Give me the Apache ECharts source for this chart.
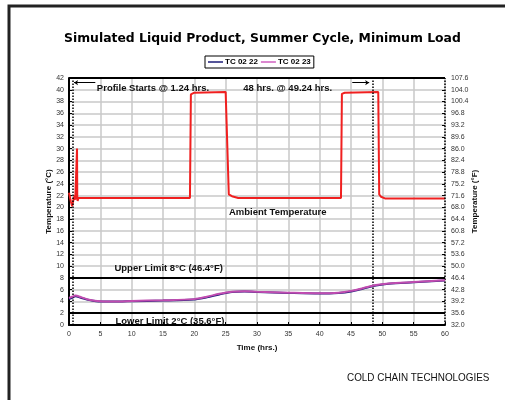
<!DOCTYPE html>
<html>
<head>
<meta charset="utf-8">
<script src="https://cdn.jsdelivr.net/npm/echarts@6/dist/echarts.min.js"></script>
<style>
  html, body { margin: 0; padding: 0; background: #fff; }
  #chart { width: 505px; height: 400px; }
</style>
</head>
<body>
<div id="chart"></div>
<script>
// ambient (chamber) profile
var ambientTime = [0, 0.3, 0.5, 0.75, 0.9, 1.0, 1.1, 1.22, 1.28, 1.32, 1.38, 1.5, 19.3, 19.45, 20, 25, 25.3, 25.5, 26, 27, 43.4, 43.55, 44, 49.35, 49.5, 49.8, 50.5, 60];
var ambientTemp = [22.5, 21, 20.2, 21.5, 22, 21.3, 21, 21.5, 30, 21.5, 21.1, 21.6, 21.6, 39.2, 39.5, 39.6, 39.5, 22.2, 21.9, 21.6, 21.6, 39.3, 39.5, 39.6, 22.2, 21.8, 21.5, 21.5];

// product thermocouples
var productTime = [0, 0.5, 1, 2, 3, 5, 8, 10, 15, 20, 22, 24, 26, 28, 30, 35, 40, 43, 45, 47, 49, 51, 55, 60];
var tc0222 = [4.4, 4.6, 4.9, 4.6, 4.3, 4.0, 4.0, 4.05, 4.15, 4.35, 4.7, 5.2, 5.6, 5.7, 5.6, 5.45, 5.35, 5.45, 5.7, 6.2, 6.7, 7.0, 7.25, 7.55];
var tc0223 = [4.6, 4.8, 5.0, 4.7, 4.35, 4.05, 4.0, 4.1, 4.2, 4.4, 4.8, 5.3, 5.65, 5.75, 5.65, 5.5, 5.4, 5.5, 5.8, 6.3, 6.8, 7.05, 7.3, 7.6];

var upperLimit = 8;
var lowerLimit = 2;
var profileStart = 0.65;
var profileEnd = 48.5;

function zip (xs, ys) {
  return xs.map(function (x, i) { return [x, ys[i]]; });
}

// text placed at a data coordinate
function note (text, x, y) {
  return {
    coord: [x, y],
    symbol: 'rect',
    symbolSize: 1,
    itemStyle: { color: 'rgba(0,0,0,0)' },
    label: {
      show: true,
      position: 'inside',
      formatter: text,
      fontFamily: 'Liberation Sans',
      fontWeight: 'bold',
      fontSize: 9.5,
      color: '#111'
    }
  };
}

var font = 'Liberation Sans';
var chart = echarts.init(document.getElementById('chart'));

chart.setOption({
  animation: false,
  backgroundColor: '#fff',
  graphic: [{
    type: 'polyline',
    shape: { points: [[9, 400], [9, 6], [505, 6]] },
    style: { fill: 'none', stroke: '#222', lineWidth: 3 },
    silent: true
  }, {
    type: 'text',
    x: 347,
    y: 372,
    scaleX: 0.9,
    style: { text: 'COLD CHAIN TECHNOLOGIES', font: '11px "Liberation Sans"', fill: '#111' }
  }],
  title: {
    text: 'Simulated Liquid Product, Summer Cycle, Minimum Load',
    left: 59,
    top: 28,
    textStyle: { fontFamily: 'DejaVu Sans', fontWeight: 'bold', fontSize: 12.4, color: '#000' }
  },
  legend: {
    top: 56,
    left: 205,
    data: ['TC 02 22', 'TC 02 23'],
    icon: 'rect',
    itemWidth: 15,
    itemHeight: 1.5,
    itemGap: 3,
    padding: [2, 3],
    borderColor: '#000',
    borderWidth: 1,
    textStyle: { fontFamily: font, fontWeight: 'bold', fontSize: 8, color: '#000', padding: [0, 0, 0, -3] }
  },
  grid: { left: 69, right: 60, top: 78, bottom: 75 },
  xAxis: {
    type: 'value',
    min: 0, max: 60, interval: 5,
    name: 'Time (hrs.)',
    nameLocation: 'middle',
    nameGap: 19,
    nameMoveOverlap: false,
    nameTextStyle: { fontFamily: font, fontWeight: 'bold', fontSize: 8, color: '#111' },
    axisLine: { lineStyle: { color: '#000', width: 2 } },
    axisTick: { inside: true, length: 3, lineStyle: { color: '#000' } },
    axisLabel: { fontFamily: font, fontSize: 7, color: '#333', margin: 6 },
    splitLine: { lineStyle: { color: '#c8c8c8', width: 1.5 } }
  },
  yAxis: [{
    type: 'value',
    min: 0, max: 42, interval: 2,
    name: 'Temperature (°C)',
    nameLocation: 'middle',
    nameGap: 16,
    nameMoveOverlap: false,
    nameTextStyle: { fontFamily: font, fontWeight: 'bold', fontSize: 8, color: '#111' },
    axisLine: { show: true, lineStyle: { color: '#000', width: 2 } },
    axisTick: { show: true, inside: true, length: 3, lineStyle: { color: '#000' } },
    axisLabel: { fontFamily: font, fontSize: 7, color: '#333', margin: 5 },
    splitLine: { lineStyle: { color: '#c8c8c8', width: 1.5 } }
  }, {
    type: 'value',
    position: 'right',
    min: 32, max: 107.6, interval: 3.6,
    name: 'Temperature (°F)',
    nameLocation: 'middle',
    nameGap: 26,
    nameRotate: 90,
    nameMoveOverlap: false,
    nameTextStyle: { fontFamily: font, fontWeight: 'bold', fontSize: 8, color: '#111' },
    axisLine: { show: false },
    axisTick: { show: true, inside: true, length: 3, lineStyle: { color: '#000' } },
    axisLabel: { fontFamily: font, fontSize: 7, color: '#333', margin: 6, formatter: function (v) { return v.toFixed(1); } },
    splitLine: { show: false }
  }],
  series: [{
    name: 'Ambient',
    type: 'line',
    data: zip(ambientTime, ambientTemp),
    showSymbol: false,
    lineStyle: { color: '#f02020', width: 2 },
    z: 3,
    markLine: {
      silent: true,
      symbol: 'none',
      label: { show: false },
      data: [
        [{ coord: [0, upperLimit], lineStyle: { color: '#000', width: 2, type: 'solid' } }, { coord: [60, upperLimit] }],
        [{ coord: [0, lowerLimit], lineStyle: { color: '#000', width: 2, type: 'solid' } }, { coord: [60, lowerLimit] }],
        [{ coord: [0, 42], lineStyle: { color: '#000', width: 2, type: 'solid' } }, { coord: [60, 42] }],
        [{ coord: [profileStart, 0], lineStyle: { color: '#000', width: 1.5, type: 'dotted' } }, { coord: [profileStart, 42] }],
        [{ coord: [profileEnd, 0], lineStyle: { color: '#000', width: 1.5, type: 'dotted' } }, { coord: [profileEnd, 42] }],
        [{ coord: [60, 0], lineStyle: { color: '#000', width: 1.5, type: 'dotted' } }, { coord: [60, 42] }],
        [{ coord: [4.2, 41.2], symbol: 'none', lineStyle: { color: '#000', width: 1, type: 'solid' } }, { coord: [0.8, 41.2], symbol: 'arrow', symbolSize: 4 }],
        [{ coord: [45.2, 41.2], symbol: 'none', lineStyle: { color: '#000', width: 1, type: 'solid' } }, { coord: [47.9, 41.2], symbol: 'arrow', symbolSize: 4 }]
      ]
    },
    markPoint: {
      silent: true,
      data: [
        note('Profile Starts @ 1.24 hrs.', 13.4, 40.3),
        note('48 hrs. @ 49.24 hrs.', 34.9, 40.3),
        note('Ambient Temperature', 33.3, 19.2),
        note('Upper Limit 8°C (46.4°F)', 15.9, 9.7),
        note('Lower Limit 2°C (35.6°F)', 16.1, 0.6)
      ]
    }
  }, {
    name: 'TC 02 22',
    type: 'line',
    data: zip(productTime, tc0222),
    showSymbol: false,
    smooth: 0.3,
    itemStyle: { color: '#1c1c78' },
    lineStyle: { color: '#1c1c78', width: 2 },
    z: 4
  }, {
    name: 'TC 02 23',
    type: 'line',
    data: zip(productTime, tc0223),
    showSymbol: false,
    smooth: 0.3,
    itemStyle: { color: '#d060c0' },
    lineStyle: { color: '#c04cb0', width: 2 },
    z: 5
  }]
});
</script>
</body>
</html>
